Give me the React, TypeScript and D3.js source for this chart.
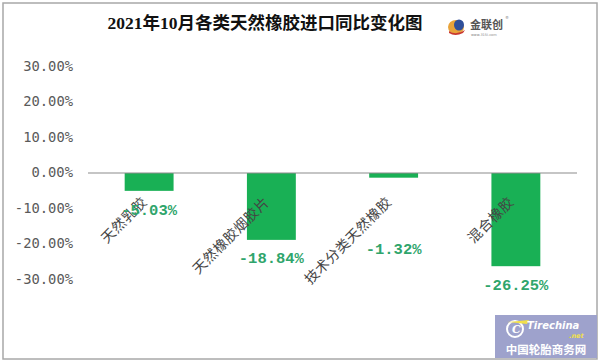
import React, { useEffect } from "react";
import * as d3 from "d3";

const title = "2021年10月各类天然橡胶进口同比变化图";
const categories = ["天然乳胶", "天然橡胶烟胶片", "技术分类天然橡胶", "混合橡胶"];
const values = [-5.03, -18.84, -1.32, -26.25];
const valueLabels = ["-5.03%", "-18.84%", "-1.32%", "-26.25%"];
const yTicks = [30, 20, 10, 0, -10, -20, -30];
const labelDy = [20, 19, 72, 20];

const W = 600;
const H = 363;

export default function App() {
  useEffect(() => {
    document.body.style.margin = "0";
  }, []);

  const x = d3
    .scaleBand<string>()
    .domain(categories)
    .range([88, 577])
    .paddingInner(0.6)
    .paddingOuter(0.3);
  const y = d3.scaleLinear().domain([-30, 30]).range([279.5, 66.5]);
  const fmt = (v: number) => v.toFixed(2) + "%";

  const barColor = "#19b055";
  const labelColor = "#2fa56c";

  return (
    <svg width={W} height={H} style={{ display: "block", background: "#fff" }}>
      <rect x={0} y={0} width={W} height={H} fill="#fff" />
      <rect x={3} y={3} width={594} height={356} fill="none" stroke="#a8a8a8" strokeWidth={1.5} />

      <text
        x={265}
        y={25}
        textAnchor="middle"
        dominantBaseline="middle"
        fontFamily="'Liberation Serif', 'Noto Sans CJK SC', serif"
        fontWeight="bold"
        fontSize={17.5}
        fill="#111"
      >
        {title}
      </text>

      {/* logo */}
      <g>
        <ellipse cx={456} cy={27} rx={8} ry={7} fill="#e8a33a" />
        <ellipse cx={459} cy={25} rx={5} ry={5.5} fill="#2f4f9a" />
        <path d="M449,31 Q456,36 465,30 L463,33 Q455,37 449,33 Z" fill="#c9382f" />
        <text x={470} y={26} dominantBaseline="middle" fontFamily="'Noto Sans CJK SC', sans-serif" fontSize={11} fontWeight="bold" fill="#555">金联创</text>
        <text x={471} y={35.5} fontFamily="'DejaVu Sans', sans-serif" fontSize={3.5} fill="#888">www.315i.com</text>
        <text x={505} y={19} fontFamily="'DejaVu Sans', sans-serif" fontSize={4} fill="#777">®</text>
      </g>

      {/* y tick labels */}
      {yTicks.map((t) => (
        <text
          key={t}
          x={73}
          y={y(t)}
          textAnchor="end"
          dominantBaseline="middle"
          fontFamily="'DejaVu Sans Mono', 'Liberation Mono', monospace"
          fontSize={13.8}
          fill="#5a5a5a"
        >
          {fmt(t)}
        </text>
      ))}

      {/* bars */}
      {categories.map((c, i) => {
        const v = values[i];
        const y0 = y(0);
        const y1 = y(v);
        return (
          <rect
            key={c}
            x={x(c)!}
            y={Math.min(y0, y1)}
            width={x.bandwidth()}
            height={Math.abs(y1 - y0)}
            fill={barColor}
          />
        );
      })}

      {/* zero line */}
      <line x1={88} x2={577} y1={y(0)} y2={y(0)} stroke="#8c8c8c" strokeWidth={1.2} />

      {/* category labels */}
      {categories.map((c) => {
        const cx = x(c)! + x.bandwidth() / 2 - 1;
        const cy = 203;
        return (
          <text
            key={c}
            x={cx}
            y={cy}
            textAnchor="end"
            transform={`rotate(-45, ${cx}, ${cy})`}
            fontFamily="'Noto Sans CJK SC', sans-serif"
            fontSize={14}
            letterSpacing={0.5}
            fill="#444"
          >
            {c}
          </text>
        );
      })}

      {/* value labels */}
      {categories.map((c, i) => (
        <text
          key={c}
          x={x(c)! + x.bandwidth() / 2}
          y={y(values[i]) + labelDy[i]}
          textAnchor="middle"
          dominantBaseline="middle"
          fontFamily="'Liberation Mono', 'DejaVu Sans Mono', monospace"
          fontWeight="bold"
          fontSize={15.5}
          fill={labelColor}
        >
          {valueLabels[i]}
        </text>
      ))}

      {/* watermark */}
      <g>
        <rect x={495} y={315} width={102} height={43} fill="#9ea2cc" />
        <circle cx={515} cy={329} r={8} fill="none" stroke="#fff" strokeWidth={2} />
        <path d="M507,322 L529,320 L527,324 Z" fill="#f2e04a" />
        <text x={512} y={333} fontFamily="'DejaVu Serif', serif" fontStyle="italic" fontWeight="bold" fontSize={11} fill="#fff">C</text>
        <text x={527} y={329} fontFamily="'DejaVu Sans', sans-serif" fontStyle="italic" fontWeight="bold" fontSize={10} fill="#fff">Tirechina</text>
        <text x={569} y={337.5} fontFamily="'DejaVu Sans', sans-serif" fontStyle="italic" fontWeight="bold" fontSize={6.5} fill="#f2e04a">.net</text>
        <text x={546} y={354} textAnchor="middle" fontFamily="'Noto Sans CJK SC', sans-serif" fontWeight="bold" fontSize={11.5} fill="#fff">中国轮胎商务网</text>
      </g>
    </svg>
  );
}
